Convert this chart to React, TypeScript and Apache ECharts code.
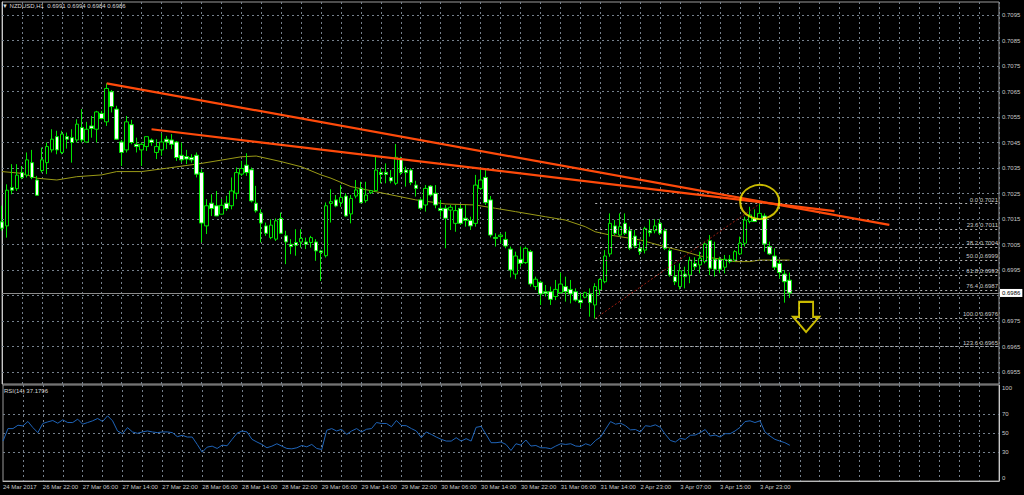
import React, { useEffect, useRef } from 'react';
import * as echarts from 'echarts';

const FONT = '"Liberation Sans", Arial, sans-serif';
const MONTHS = ['Jan', 'Feb', 'Mar', 'Apr', 'May', 'Jun', 'Jul', 'Aug', 'Sep', 'Oct', 'Nov', 'Dec'];

// trading sessions (start, number of H1 bars incl. empty right margin)
const sessions: [string, number][] = [
  ['2017-03-24T14:00:00Z', 8],
  ['2017-03-26T22:00:00Z', 120],
  ['2017-04-02T23:00:00Z', 73],
];
const categories: string[] = [];
sessions.forEach(([s, n]) => {
  const t0 = Date.parse(s);
  for (let k = 0; k < n; k++) categories.push(new Date(t0 + k * 3600000).toISOString());
});

// [open, high, low, close]
const candles: number[][] = [
  [0.70139,0.70202,0.70104,0.70114],[0.70123,0.70286,0.70077,0.70263],[0.70273,0.70365,0.70247,0.70263],[0.70269,0.70365,0.70260,0.70322],
  [0.70332,0.70358,0.70306,0.70313],[0.70322,0.70411,0.70313,0.70382],[0.70371,0.70421,0.70306,0.70313],[0.70303,0.70319,0.70241,0.70243],
  [0.70340,0.70430,0.70332,0.70382],[0.70371,0.70450,0.70326,0.70434],[0.70421,0.70502,0.70411,0.70463],[0.70473,0.70496,0.70404,0.70421],
  [0.70411,0.70496,0.70404,0.70483],[0.70473,0.70489,0.70426,0.70463],[0.70469,0.70502,0.70371,0.70450],[0.70460,0.70541,0.70450,0.70522],
  [0.70509,0.70581,0.70450,0.70460],[0.70452,0.70531,0.70450,0.70502],[0.70515,0.70554,0.70469,0.70505],[0.70502,0.70574,0.70450,0.70570],
  [0.70564,0.70574,0.70541,0.70544],[0.70531,0.70682,0.70515,0.70662],[0.70649,0.70656,0.70568,0.70591],[0.70581,0.70594,0.70460,0.70463],
  [0.70452,0.70460,0.70358,0.70411],[0.70421,0.70554,0.70411,0.70531],[0.70520,0.70539,0.70443,0.70450],[0.70443,0.70469,0.70411,0.70434],
  [0.70421,0.70450,0.70358,0.70443],[0.70434,0.70473,0.70417,0.70473],[0.70460,0.70466,0.70437,0.70450],[0.70411,0.70463,0.70385,0.70434],
  [0.70421,0.70486,0.70398,0.70452],[0.70463,0.70476,0.70424,0.70452],[0.70460,0.70483,0.70424,0.70443],[0.70452,0.70456,0.70378,0.70391],
  [0.70400,0.70450,0.70371,0.70382],[0.70395,0.70421,0.70365,0.70385],[0.70391,0.70404,0.70371,0.70382],[0.70400,0.70411,0.70313,0.70326],
  [0.70332,0.70345,0.70058,0.70134],[0.70123,0.70228,0.70091,0.70202],[0.70212,0.70247,0.70162,0.70191],[0.70202,0.70260,0.70162,0.70162],
  [0.70169,0.70228,0.70169,0.70204],[0.70212,0.70241,0.70182,0.70191],[0.70202,0.70313,0.70188,0.70260],[0.70251,0.70352,0.70228,0.70332],
  [0.70326,0.70378,0.70319,0.70348],[0.70361,0.70408,0.70319,0.70332],[0.70343,0.70352,0.70215,0.70221],[0.70212,0.70280,0.70175,0.70182],
  [0.70173,0.70188,0.70058,0.70134],[0.70123,0.70136,0.70084,0.70094],[0.70077,0.70149,0.70071,0.70126],[0.70071,0.70152,0.70064,0.70143],
  [0.70152,0.70175,0.70091,0.70094],[0.70084,0.70104,0.69973,0.70060],[0.70051,0.70071,0.70012,0.70042],[0.70058,0.70110,0.70006,0.70047],
  [0.70060,0.70110,0.70038,0.70074],[0.70060,0.70077,0.70032,0.70051],[0.70058,0.70084,0.70038,0.70077],[0.70060,0.70071,0.69986,0.70025],
  [0.70025,0.70029,0.69907,0.70019],[0.70006,0.70215,0.69999,0.70202],[0.70211,0.70267,0.70136,0.70218],[0.70225,0.70244,0.70196,0.70201],
  [0.70214,0.70283,0.70198,0.70235],[0.70240,0.70251,0.70159,0.70162],[0.70170,0.70244,0.70133,0.70231],[0.70240,0.70303,0.70231,0.70264],
  [0.70270,0.70296,0.70212,0.70214],[0.70222,0.70296,0.70214,0.70244],[0.70253,0.70264,0.70248,0.70261],[0.70261,0.70394,0.70257,0.70342],
  [0.70333,0.70349,0.70290,0.70325],[0.70333,0.70368,0.70290,0.70325],[0.70313,0.70342,0.70290,0.70299],[0.70290,0.70444,0.70283,0.70392],
  [0.70384,0.70394,0.70323,0.70332],[0.70342,0.70355,0.70277,0.70332],[0.70342,0.70349,0.70283,0.70293],[0.70283,0.70300,0.70238,0.70270],
  [0.70225,0.70231,0.70185,0.70192],[0.70205,0.70283,0.70179,0.70270],[0.70279,0.70283,0.70238,0.70244],[0.70251,0.70283,0.70192,0.70205],
  [0.70192,0.70225,0.70159,0.70183],[0.70192,0.70205,0.70035,0.70153],[0.70185,0.70205,0.70107,0.70196],[0.70133,0.70205,0.70100,0.70183],
  [0.70192,0.70205,0.70127,0.70133],[0.70153,0.70205,0.70120,0.70144],[0.70144,0.70159,0.70107,0.70123],[0.70133,0.70323,0.70120,0.70283],
  [0.70270,0.70349,0.70264,0.70303],[0.70313,0.70342,0.70205,0.70214],[0.70225,0.70240,0.70078,0.70087],[0.70078,0.70094,0.70042,0.70074],
  [0.70081,0.70094,0.70055,0.70087],[0.70070,0.70100,0.70035,0.70044],[0.70032,0.70042,0.69921,0.69950],[0.69934,0.70022,0.69914,0.70005],
  [0.69992,0.70042,0.69963,0.69976],[0.69979,0.70042,0.69974,0.70035],[0.70022,0.70029,0.69885,0.69895],[0.69885,0.69924,0.69872,0.69914],
  [0.69902,0.69908,0.69813,0.69856],[0.69865,0.69891,0.69846,0.69859],[0.69865,0.69885,0.69813,0.69835],[0.69846,0.69911,0.69832,0.69874],
  [0.69861,0.69940,0.69859,0.69895],[0.69885,0.69924,0.69826,0.69865],[0.69874,0.69911,0.69819,0.69856],[0.69865,0.69878,0.69826,0.69832],
  [0.69832,0.69859,0.69800,0.69822],[0.69843,0.69865,0.69839,0.69861],[0.69856,0.69878,0.69767,0.69822],[0.69813,0.69898,0.69760,0.69885],
  [0.69872,0.69917,0.69852,0.69913],[0.69904,0.70028,0.69898,0.70005],[0.70013,0.70172,0.70002,0.70133],[0.70123,0.70146,0.70087,0.70094],
  [0.70087,0.70172,0.70081,0.70120],[0.70133,0.70172,0.70087,0.70094],[0.70104,0.70120,0.70028,0.70035],[0.70083,0.70107,0.70035,0.70044],
  [0.70035,0.70061,0.70009,0.70022],[0.70028,0.70120,0.70015,0.70113],[0.70104,0.70149,0.70081,0.70096],[0.70104,0.70149,0.70094,0.70123],
  [0.70133,0.70149,0.70087,0.70094],[0.70104,0.70113,0.70028,0.70035],[0.70026,0.70035,0.69924,0.69930],[0.69924,0.69970,0.69891,0.69904],
  [0.69885,0.69976,0.69874,0.69947],[0.69934,0.69963,0.69878,0.69924],[0.69930,0.70002,0.69898,0.69989],[0.69976,0.70000,0.69950,0.69963],
  [0.69970,0.70022,0.69937,0.69996],[0.69983,0.70061,0.69976,0.70052],[0.70065,0.70087,0.69930,0.69957],[0.69992,0.70061,0.69924,0.69953],
  [0.69992,0.70002,0.69937,0.69953],[0.69961,0.70009,0.69937,0.69992],[0.69992,0.70009,0.69976,0.69983],[0.69989,0.70028,0.69983,0.70022],
  [0.70013,0.70081,0.70009,0.70055],[0.70055,0.70159,0.70042,0.70146],[0.70140,0.70198,0.70133,0.70166],[0.70153,0.70188,0.70140,0.70140],
  [0.70149,0.70210,0.70146,0.70172],[0.70162,0.70172,0.70022,0.70052],[0.70042,0.70061,0.70009,0.70013],[0.70005,0.70035,0.69950,0.69961],
  [0.69976,0.69989,0.69917,0.69940],[0.69934,0.69950,0.69822,0.69904],[0.69910,0.69940,0.69840,0.69860],
];

// moving average vertices [bar index, price]
const maLine: number[][] = [
  [0,0.70336],[4,0.70329],[7,0.70310],[11,0.70303],[15,0.70316],[20,0.70323],[23,0.70336],[28,0.70336],[33,0.70349],
  [40,0.70368],[44,0.70381],[48,0.70394],[51,0.70397],[56,0.70375],[60,0.70355],[64,0.70323],[66,0.70310],[70,0.70277],
  [75,0.70257],[83,0.70225],[89,0.70209],[95,0.70205],[99,0.70192],[103,0.70179],[109,0.70159],[113,0.70146],[117,0.70120],
  [119,0.70100],[122,0.70087],[128,0.70068],[133,0.70041],[137,0.70022],[140,0.70005],[144,0.69993],[147,0.69983],
  [150,0.69983],[152,0.69989],[158,0.69989],
];

const rsi: number[] = [
  41.6,54.6,54.6,58.1,57.4,62.0,55.6,50.4,59.9,61.6,
  63.0,60.2,63.7,60.9,60.9,64.4,59.2,60.9,62.7,65.1,
  62.0,67.9,62.7,52.1,49.3,55.6,51.1,49.7,51.1,52.1,
  51.1,50.4,51.1,51.1,50.4,46.2,47.6,45.8,45.8,38.1,
  30.0,35.3,36.3,33.9,37.4,36.7,43.4,49.7,52.1,51.1,
  43.4,40.6,38.1,34.6,36.3,38.8,36.3,33.9,33.5,34.6,
  37.0,35.6,38.1,33.9,32.8,52.8,54.6,52.1,53.9,48.6,
  52.1,54.6,51.1,53.9,54.6,60.9,59.9,59.9,56.5,63.0,
  57.8,57.6,54.6,52.1,45.1,51.1,48.6,45.8,43.4,41.6,
  41.6,45.1,41.6,44.1,41.6,55.9,56.9,48.6,39.9,39.9,
  40.6,38.1,31.8,38.8,37.4,42.7,36.4,37.0,34.6,34.6,
  33.6,36.4,38.8,38.1,38.8,36.4,36.0,38.8,37.0,42.3,
  45.8,54.0,61.9,59.2,60.2,57.6,53.3,53.6,51.1,57.6,
  56.9,58.5,55.9,48.6,42.3,40.6,44.4,43.4,47.6,47.9,
  50.4,53.6,46.9,47.9,45.8,49.3,49.3,52.1,55.9,61.9,
  62.7,60.9,62.7,51.1,46.9,43.4,41.6,39.9,37.18,
];

// horizontal grid levels; the 0.6985 label is covered by the bid box in the reference
const priceTicks = [0.6955,0.6965,0.6975,0.6985,0.6995,0.7005,0.7015,0.7025,0.7035,0.7045,0.7055,0.7065,0.7075,0.7085,0.7095];
const priceLabels = [0.6955,0.6965,0.6975,0.6995,0.7005,0.7015,0.7025,0.7035,0.7045,0.7055,0.7065,0.7075,0.7085,0.7095];
const rsiTicks = [0, 30, 50, 70, 100];
const rsiLevels = [30, 50, 70];

const trendUpper: number[][] = [[21, 0.70682], [178, 0.70127]];
const trendLower: number[][] = [[30, 0.70502], [167, 0.70181]];
const fibAnchor: number[][] = [[119, 0.6976], [152, 0.7021]];
const fibRatios = ['0.0', '23.6', '38.2', '50.0', '61.8', '76.4', '100.0', '123.6'];
const fibPrices = [0.7021, 0.7011, 0.7004, 0.6999, 0.6993, 0.6987, 0.6976, 0.6965];
const fibEnd = 200;
const bidPrice = 0.6986;
const highlight: number[][] = [[152, 0.70217]];
const arrowMark: number[][] = [[161.3, 0.69766]];

const GRID_COLOR = '#75808c';
const TXT = '#c8c8c8';
const LIME = '#00e600';
const YELLOW = '#fbe800';

function fmtCat(iso: string, idx: number): string {
  const d = new Date(iso);
  const day = d.getUTCDate();
  const mon = MONTHS[d.getUTCMonth()];
  if (idx === 0) return `${day} ${mon} ${d.getUTCFullYear()}`;
  const hh = String(d.getUTCHours()).padStart(2, '0');
  return `${day} ${mon} ${hh}:00`;
}

export default function App() {
  const ref = useRef<HTMLDivElement>(null);
  useEffect(() => {
    if (!ref.current) return;
    const chart = echarts.init(ref.current, null, { renderer: 'svg' });
    const lastIdx = candles.length - 1;
    const vSplit = {
      show: true,
      interval: (i: number) => i % 4 === 0 && i > 0,
      lineStyle: { color: GRID_COLOR, width: 1, type: [2, 3] },
    };
    const option: any = {
      animation: false,
      backgroundColor: '#000',
      textStyle: { fontFamily: FONT },
      title: [
        { text: '▼ NZDUSD,H1  0.6991 0.6994 0.6984 0.6986', left: 2, top: 3, padding: 0,
          textStyle: { color: '#d8d8d8', fontSize: 6, fontWeight: 'normal', fontFamily: FONT } },
        { text: 'RSI(14) 37.1796', left: 4, top: 388, padding: 0,
          textStyle: { color: '#d8d8d8', fontSize: 6, fontWeight: 'normal', fontFamily: FONT } },
      ],
      grid: [
        { left: 2, top: 2, width: 997, height: 382, show: true, borderColor: '#9a9a9a', borderWidth: 1, backgroundColor: '#000' },
        { left: 2, top: 385, width: 997, height: 96, show: true, borderColor: '#9a9a9a', borderWidth: 1, backgroundColor: '#000' },
      ],
      xAxis: [
        { type: 'category', gridIndex: 0, data: categories, boundaryGap: false,
          axisLine: { show: false }, axisTick: { show: false }, axisLabel: { show: false }, splitLine: vSplit },
        { type: 'value', gridIndex: 0, min: 0, max: categories.length - 1, show: false },
        { type: 'category', gridIndex: 1, data: categories, boundaryGap: false,
          axisLine: { show: true, lineStyle: { color: '#b8b8b8' } }, axisTick: { show: false },
          axisLabel: {
            show: true, interval: (i: number) => i % 8 === 0 && i <= lastIdx - 6, align: 'left', margin: 3,
            color: TXT, fontSize: 6, fontFamily: FONT, hideOverlap: false,
            formatter: (v: string, i: number) => fmtCat(v, i),
          },
          splitLine: vSplit },
      ],
      yAxis: [
        { type: 'value', gridIndex: 0, position: 'right', min: 0.69503, max: 0.71001, scale: true,
          axisLine: { show: true, lineStyle: { color: '#c8c8c8' } }, axisTick: { show: false }, splitLine: { show: false },
          axisLabel: { customValues: priceLabels, formatter: (v: number) => v.toFixed(4), color: TXT, fontSize: 6, fontFamily: FONT, margin: 3 } },
        { type: 'value', gridIndex: 1, position: 'right', min: 0, max: 100,
          axisLine: { show: true, lineStyle: { color: '#c8c8c8' } }, axisTick: { show: false }, splitLine: { show: false },
          axisLabel: { customValues: rsiTicks, color: TXT, fontSize: 6, fontFamily: FONT, margin: 3,
            verticalAlignMaxLabel: 'top', verticalAlignMinLabel: 'bottom' } },
      ],
      series: [
        { type: 'line', name: 'grid', xAxisIndex: 1, yAxisIndex: 0, data: [], silent: true,
          markLine: { silent: true, z: 1, precision: 6, symbol: ['none', 'none'], label: { show: false },
            lineStyle: { color: GRID_COLOR, width: 1, type: [2, 3] },
            data: priceTicks.map((v) => ({ yAxis: v })) } },
        { type: 'line', name: 'bid', xAxisIndex: 1, yAxisIndex: 0, data: [], silent: true,
          markLine: { silent: true, z: 2, precision: 6, symbol: ['none', 'none'],
            lineStyle: { color: '#8c8c8c', width: 1, type: 'solid' },
            label: { show: true, position: 'end', formatter: bidPrice.toFixed(4), color: '#000', backgroundColor: '#ffffff',
              fontSize: 6, fontFamily: FONT, padding: [1, 2], distance: 1 },
            data: [{ yAxis: bidPrice }] } },
        { type: 'line', name: 'MA', xAxisIndex: 1, yAxisIndex: 0, data: maLine, symbol: 'none', z: 3,
          lineStyle: { color: '#9a9a16', width: 1 } },
        { type: 'candlestick', name: 'NZDUSD', xAxisIndex: 0, yAxisIndex: 0, barWidth: 4, z: 4,
          data: candles.map((c) => [c[0], c[3], c[2], c[1]]),
          itemStyle: { color: '#000', color0: '#ffffff', borderColor: LIME, borderColor0: LIME, borderWidth: 1 } },
        { type: 'line', name: 'fib', xAxisIndex: 1, yAxisIndex: 0, data: fibAnchor, symbol: 'none', z: 5,
          lineStyle: { color: '#9b1c10', width: 1, type: [2, 2] },
          markLine: { silent: true, precision: 6, symbol: ['none', 'none'], z: 5,
            lineStyle: { color: '#b4b4b4', width: 1, type: [2, 3] },
            label: { show: true, position: 'insideEndTop', color: TXT, fontSize: 6, fontFamily: FONT, distance: 1 },
            data: fibPrices.map((p, i) => [
              { coord: [fibAnchor[0][0], p], label: { formatter: `${fibRatios[i]} ${p.toFixed(4)}` } },
              { coord: [fibEnd, p], label: { formatter: `${fibRatios[i]} ${p.toFixed(4)}` } },
            ]) } },
        { type: 'line', name: 'trend1', xAxisIndex: 1, yAxisIndex: 0, data: trendUpper, symbol: 'none', z: 6,
          lineStyle: { color: '#ff4a0a', width: 2.2 } },
        { type: 'line', name: 'trend2', xAxisIndex: 1, yAxisIndex: 0, data: trendLower, symbol: 'none', z: 6,
          lineStyle: { color: '#ff4a0a', width: 2.2 } },
        { type: 'scatter', name: 'circle', xAxisIndex: 1, yAxisIndex: 0, data: highlight, symbol: 'circle', symbolSize: [39, 34], z: 7,
          itemStyle: { color: 'rgba(0,0,0,0)', borderColor: YELLOW, borderWidth: 2 } },
        { type: 'scatter', name: 'arrow', xAxisIndex: 1, yAxisIndex: 0, data: arrowMark, z: 7,
          symbol: 'path://M6,0L20,0L20,15L26,15L13,30L0,15L6,15Z', symbolSize: [26, 30],
          itemStyle: { color: 'rgba(0,0,0,0)', borderColor: YELLOW, borderWidth: 2 } },
        { type: 'line', name: 'RSI', xAxisIndex: 2, yAxisIndex: 1, data: rsi, symbol: 'none', z: 3,
          lineStyle: { color: '#1f64b8', width: 1 },
          markLine: { silent: true, symbol: ['none', 'none'], z: 1, label: { show: false },
            lineStyle: { color: GRID_COLOR, width: 1, type: [2, 3] },
            data: rsiLevels.map((v) => ({ yAxis: v })) } },
      ],
    };
    chart.setOption(option);
    return () => chart.dispose();
  }, []);
  return (
    <div style={{ position: 'fixed', left: 0, top: 0, width: 1024, height: 495, background: '#000' }}>
      <div ref={ref} style={{ width: 1024, height: 495 }} />
    </div>
  );
}
